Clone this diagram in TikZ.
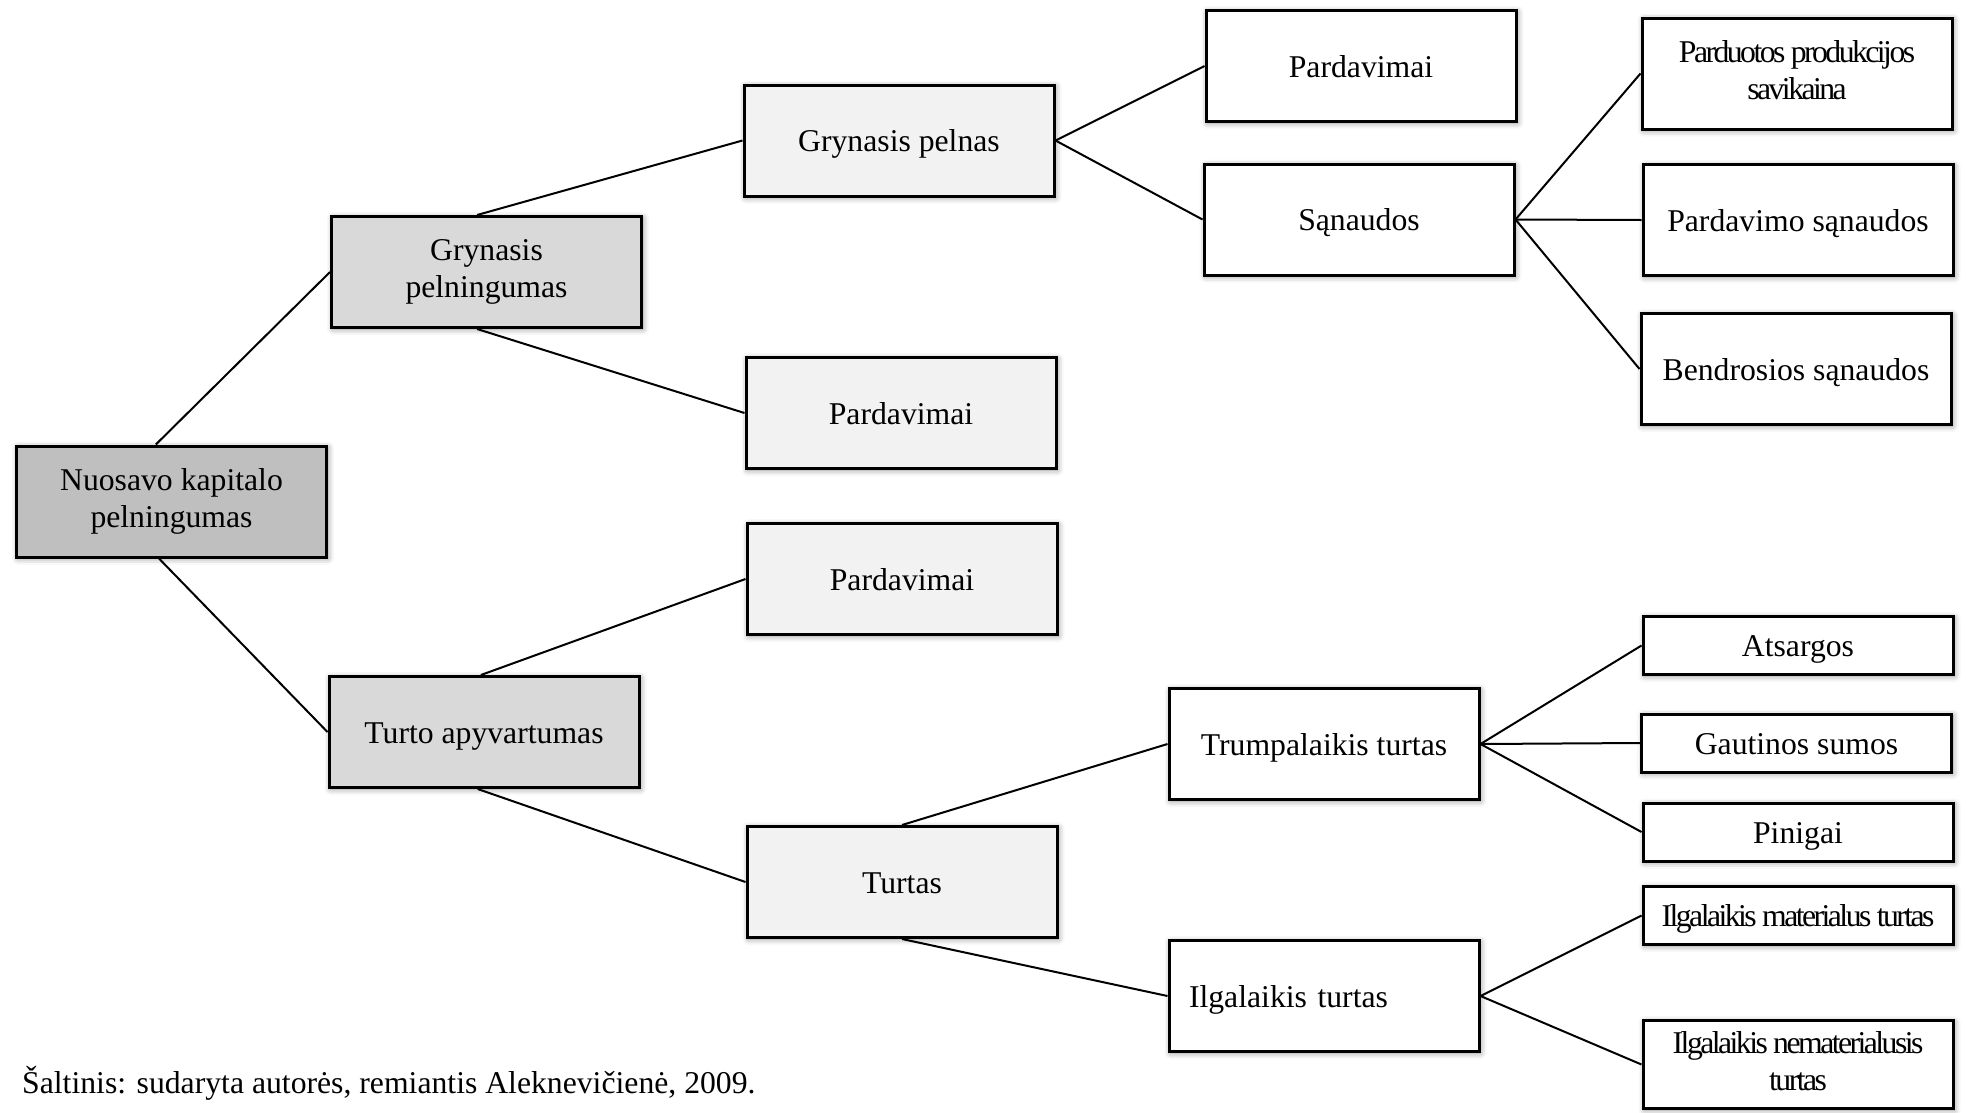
\documentclass[tikz,border=0pt]{standalone}
\usepackage{fontspec}
\setmainfont{Liberation Serif}
\newfontfamily\tightserif[LetterSpace=-8]{Liberation Serif}
\usetikzlibrary{calc,shadows.blur}
% two centred lines of box text, lowered by the optional amount
\newcommand\boxlines[3][-1.5pt]{\raisebox{#1}{\begin{tabular}{@{}c@{}}#2\\#3\end{tabular}}}
\begin{document}
\begin{tikzpicture}[x=1pt,y=-1pt,
  box/.style={draw=black, line width=3pt, rectangle, fill=white,
    minimum width=310pt, minimum height=111pt, inner sep=0pt, align=center,
    font=\fontsize{31.7}{37}\selectfont,
    execute at begin node={\rule{0pt}{30pt}},
    execute at end node={\rule[-8pt]{0pt}{8pt}},
    blur shadow={shadow xshift=1.5pt, shadow yshift=-1.5pt,
      shadow blur radius=6pt, shadow opacity=45}},
  smallbox/.style={box, minimum height=58pt},
  tight/.style={font=\tightserif\fontsize{31.7}{37}\selectfont},
  lvlA/.style={fill=black!25},
  lvlB/.style={fill=black!15},
  lvlC/.style={fill=black!5},
  conn/.style={draw=black, line width=2pt}]
\useasboundingbox (0,0) rectangle (1966,1112);

% root and first level
\node[box, lvlA] (root) at (171.5,501.5) {\boxlines{Nuosavo kapitalo}{pelningumas}};
\node[box, lvlB] (gpm) at (486.5,272) {\boxlines{Grynasis}{pelningumas}};
\node[box, lvlB] (ta) at (484,732) {Turto apyvartumas};

% second level
\node[box, lvlC] (gp) at (899,140.5) {Grynasis pelnas};
\node[box, lvlC] (pard1) at (901,413) {Pardavimai};
\node[box, lvlC] (pard2) at (902,579) {Pardavimai};
\node[box, lvlC] (turtas) at (902,882) {Turtas};

% third level
\node[box] (pard3) at (1361,66) {Pardavimai};
\node[box] (san) at (1359,219.5) {Sąnaudos};
\node[box] (trump) at (1324,744) {Trumpalaikis turtas};
\node[box, inner xsep=20pt, text width=270pt, align=left] (ilg) at (1324,996) {Ilgalaikis turtas};

% fourth level: expenses
\node[box, tight] (psav) at (1797,73.5) {\boxlines[-3.5pt]{Parduotos produkcijos}{savikaina}};
\node[box] (psan) at (1798,220) {Pardavimo sąnaudos};
\node[box] (bsan) at (1796,369) {Bendrosios sąnaudos};

% fourth level: current assets
\node[smallbox] (ats) at (1798,645.5) {Atsargos};
\node[smallbox] (gaut) at (1796.5,743) {Gautinos sumos};
\node[smallbox] (pin) at (1798,832) {Pinigai};

% fourth level: long-term assets
\node[smallbox, tight] (imt) at (1798,915.5) {Ilgalaikis materialus turtas};
\node[box, tight, minimum height=88pt] (int) at (1798,1064.5) {\boxlines[-5.5pt]{Ilgalaikis nematerialusis}{turtas}};

% connectors
\draw[conn] ($(root.north west)!0.45!(root.north east)$) -- (gpm.west);
\draw[conn] ($(root.south west)!0.46!(root.south east)$) -- (ta.west);
\draw[conn] ($(gpm.north west)!0.47!(gpm.north east)$) -- (gp.west);
\draw[conn] ($(gpm.south west)!0.47!(gpm.south east)$) -- (pard1.west);
\draw[conn] ($(ta.north west)!0.49!(ta.north east)$) -- (pard2.west);
\draw[conn] ($(ta.south west)!0.48!(ta.south east)$) -- (turtas.west);
\draw[conn] (gp.east) -- (pard3.west);
\draw[conn] (gp.east) -- (san.west);
\draw[conn] (san.east) -- (psav.west);
\draw[conn] (san.east) -- (psan.west);
\draw[conn] (san.east) -- (bsan.west);
\draw[conn] (turtas.north) -- (trump.west);
\draw[conn] (turtas.south) -- (ilg.west);
\draw[conn] (trump.east) -- (ats.west);
\draw[conn] (trump.east) -- (gaut.west);
\draw[conn] (trump.east) -- (pin.west);
\draw[conn] (ilg.east) -- (imt.west);
\draw[conn] (ilg.east) -- (int.west);

% source note
\node[anchor=base west, inner sep=0pt, font=\fontsize{31.7}{37}\selectfont] (src) at (22,1093)
  {Šaltinis: sudaryta autorės, remiantis Aleknevičienė, 2009.};
\end{tikzpicture}
\end{document}
